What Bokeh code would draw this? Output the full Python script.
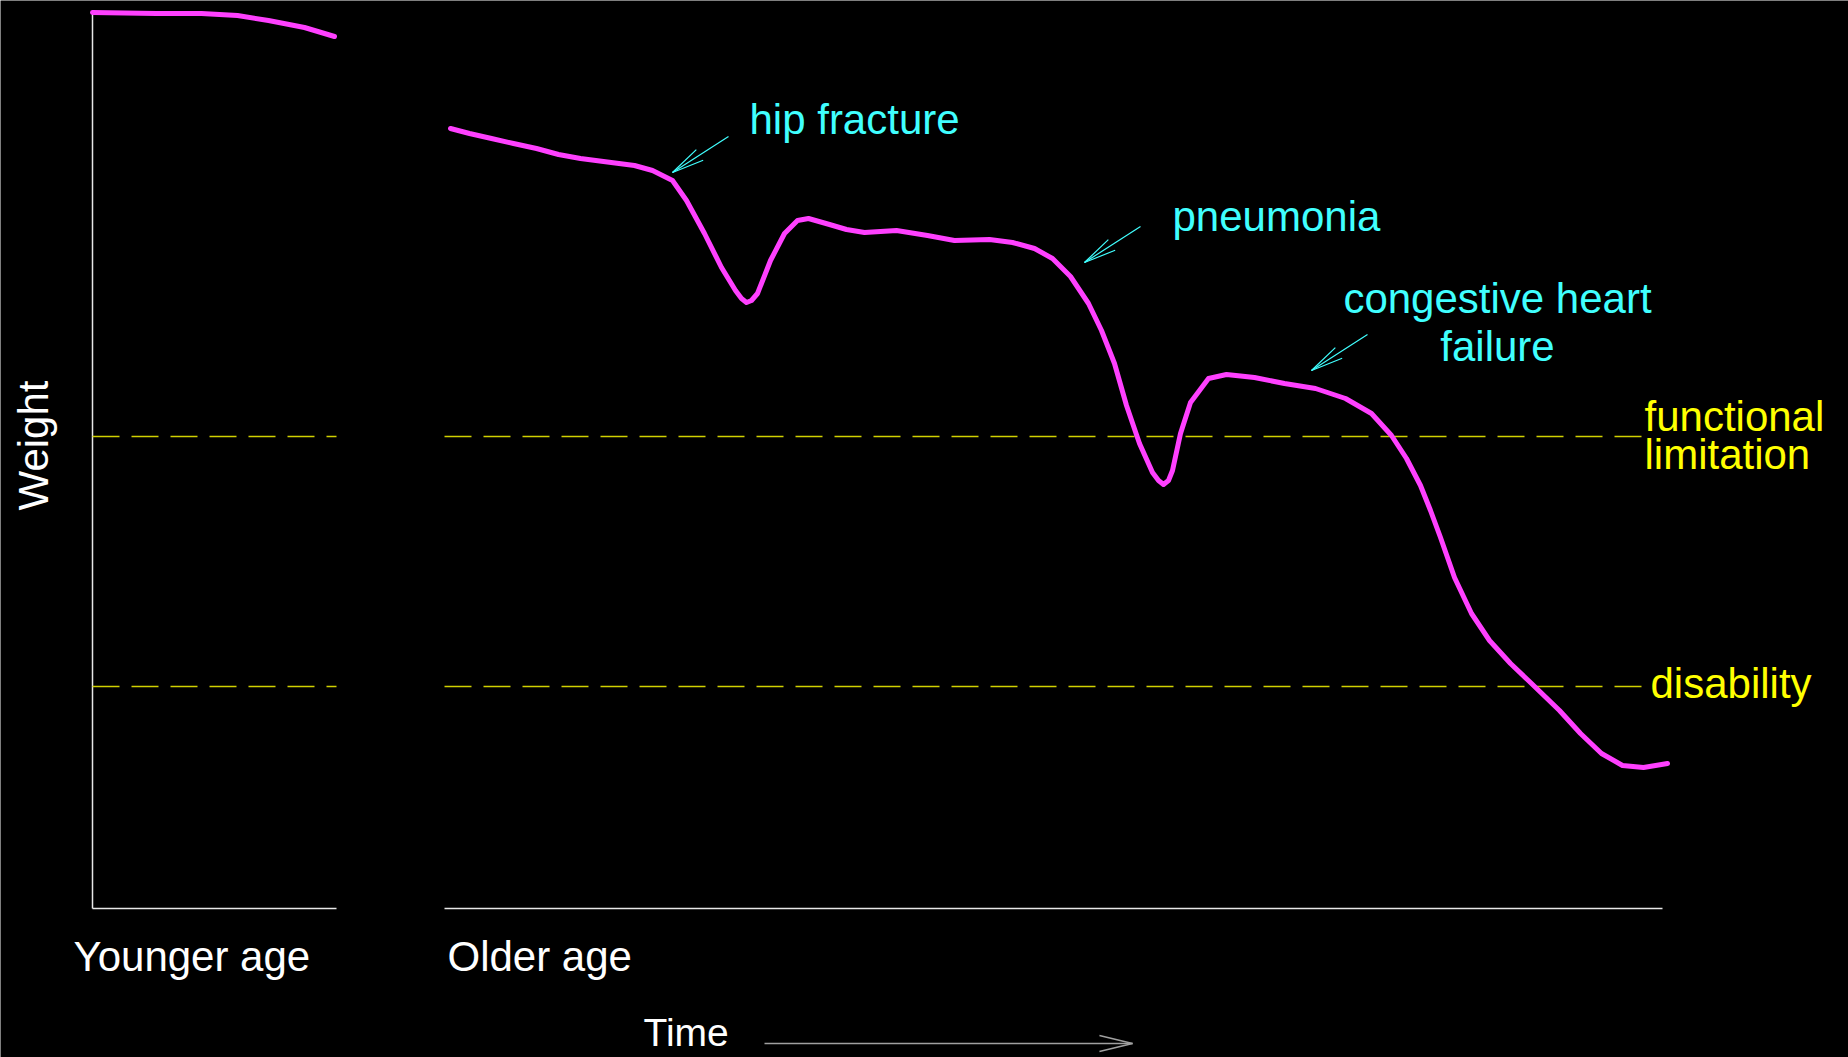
import math
from bokeh.plotting import figure
from bokeh.models import Range1d
from bokeh.core.properties import value
from bokeh.embed import file_html
from bokeh.resources import INLINE

# ---- data (time units from the left axis, weight units above the time axis) ----
young_time = [0, 64, 109, 145, 176, 212, 242]
young_weight = [896, 895, 895, 893, 888, 881, 872]

old_time = [358, 377, 399, 421, 444, 466, 488, 511, 542, 560, 580, 594, 612, 629, 643, 649,
            654, 659, 665, 678, 692, 705, 716, 737, 754, 772, 804, 835, 862, 897, 920, 942,
            960, 978, 996, 1009, 1022, 1034, 1047, 1060, 1066, 1071, 1076, 1080, 1088, 1098,
            1116, 1134, 1162, 1192, 1223, 1253, 1279, 1299, 1314, 1328, 1338, 1348, 1362,
            1379, 1397, 1418, 1439, 1467, 1488, 1509, 1530, 1551, 1575]
old_weight = [780, 775, 770, 765, 760, 754, 750, 747, 743, 738, 728, 708, 675, 641, 618, 610,
              606, 608, 615, 648, 675, 688, 690, 684, 679, 676, 678, 673, 668, 669, 666, 660,
              650, 632, 605, 578, 545, 503, 465, 436, 428, 424, 428, 438, 475, 506,
              530, 534, 531, 525, 520, 510, 495, 473, 450, 423, 398, 371, 331,
              295, 268, 245, 225, 198, 175, 155, 143, 141, 145]

threshold_names = ["functional limitation", "disability"]
threshold_weight = [472, 222]

panel_names = ["Younger age", "Older age"]
panel_start = [0, 352]
panel_end = [244, 1570]
dash_end = [244, 1552]

event_names = ["hip fracture", "pneumonia", "congestive heart failure"]
event_tip_time = [580, 992, 1219]
event_tip_weight = [736, 646, 538]

# ---- figure: frame spans whole canvas; 1 data unit = 1 px ----
W, H = 1848, 1057
p = figure(width=W, height=H, output_backend="svg", toolbar_location=None,
           x_range=Range1d(-92, -92 + W), y_range=Range1d(908 - H, 908),
           x_axis_type=None, y_axis_type=None,
           background_fill_color="black", border_fill_color="black",
           min_border=0, min_border_left=0, min_border_right=0,
           min_border_top=0, min_border_bottom=0)
p.outline_line_color = None
p.grid.visible = False

FONT = value("Liberation Sans")
AX = "#e8e8e8"
CYAN = "#40ffff"
YEL = "#ffff00"
MAG = "#ff40ff"

# axes
p.segment(x0=[0], y0=[0], x1=[0], y1=[young_weight[0]], line_color=AX, line_width=1.5)
p.segment(x0=panel_start, y0=[0, 0], x1=panel_end, y1=[0, 0], line_color=AX, line_width=1.5)

# threshold dashed lines
for w in threshold_weight:
    p.segment(x0=panel_start, y0=[w, w], x1=dash_end, y1=[w, w],
              line_color="#d0d000", line_width=1.4, line_dash="27 12")

# weight curves
p.line(young_time, young_weight, line_color=MAG, line_width=5, line_cap="round", line_join="round")
p.line(old_time, old_weight, line_color=MAG, line_width=5, line_cap="round", line_join="round")


def arrow(tip, tail, color, length, spread_deg, width=1.2):
    dx, dy = tail[0] - tip[0], tail[1] - tip[1]
    n = math.hypot(dx, dy)
    ux, uy = dx / n, dy / n
    xs0, ys0, xs1, ys1 = [tail[0]], [tail[1]], [tip[0]], [tip[1]]
    for s in (spread_deg, -spread_deg):
        a = math.radians(s)
        rx = ux * math.cos(a) - uy * math.sin(a)
        ry = ux * math.sin(a) + uy * math.cos(a)
        xs0.append(tip[0]); ys0.append(tip[1])
        xs1.append(tip[0] + length * rx); ys1.append(tip[1] + length * ry)
    p.segment(x0=xs0, y0=ys0, x1=xs1, y1=ys1, line_color=color, line_width=width)


# event arrows (tail offset 56 right, 36 up)
for tx, ty in zip(event_tip_time, event_tip_weight):
    arrow((tx, ty), (tx + 56, ty + 36), CYAN, 33, 11)

# time arrow
arrow((1040, -135), (672, -135), "#a0a0a0", 34, 13.5, width=1.5)


def txt(x, y, s, color, size="42px", align="left", angle=0.0):
    p.text(x=[x], y=[y], text=[s], text_color=color, text_font=FONT,
           text_font_size=size, text_align=align, text_baseline="alphabetic", angle=angle)


# event labels
txt(657, 789, event_names[0], CYAN)
txt(1080, 692, event_names[1], CYAN)
txt(1405, 610, "congestive heart", CYAN, align="center")
txt(1405, 562, "failure", CYAN, align="center")

# threshold labels
txt(1552, 492, "functional", YEL)
txt(1552, 454, "limitation", YEL)
txt(1558, 225, threshold_names[1], YEL)

# panel labels
txt(-19, -48, panel_names[0], "white")
txt(355, -48, panel_names[1], "white")
txt(551, -124, "Time", "white", size="39px")

# y label
txt(-59, 463, "Weight", "white", align="center", angle=math.pi / 2)

open("out.html", "w").write(file_html(p, INLINE))
